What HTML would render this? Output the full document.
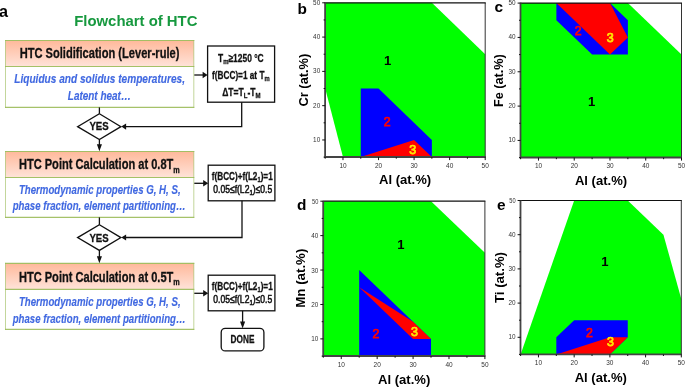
<!DOCTYPE html>
<html><head><meta charset="utf-8"><title>Flowchart of HTC</title>
<style>
html,body{margin:0;padding:0;background:#fff;}
body{width:685px;height:387px;overflow:hidden;}
svg{display:block;font-family:"Liberation Sans", sans-serif;will-change:transform;}
</style></head><body>
<svg width="685" height="387" viewBox="0 0 685 387">
<g id="flow">
<defs><linearGradient id="hg" x1="0" y1="0" x2="0" y2="1"><stop offset="0" stop-color="#ffb99b"/><stop offset="1" stop-color="#ffe3d9"/></linearGradient></defs>
<text x="-0.90" y="17.00" font-size="16.2" font-weight="bold" font-style="normal" fill="#000" stroke="#000" stroke-width="0" text-anchor="start">a</text>
<text x="74.20" y="26.00" font-size="14.6" font-weight="bold" font-style="normal" fill="#17993f" stroke="#17993f" stroke-width="0" text-anchor="start" textLength="123.30" lengthAdjust="spacingAndGlyphs">Flowchart of HTC</text>
<rect x="5.50" y="40.50" width="188.30" height="66.90" fill="#fff"/>
<rect x="5.50" y="40.50" width="188.30" height="26.00" fill="url(#hg)"/>
<path d="M5.50 40.00 V107.90 M193.80 40.00 V107.90" stroke="#9bbb59" stroke-width="1" stroke-opacity="0.6" fill="none"/>
<path d="M5.00 40.50 H194.30 M5.00 66.50 H194.30 M5.00 107.40 H194.30" stroke="#9bbb59" stroke-width="1.1" stroke-opacity="0.9" fill="none"/>
<text x="19.70" y="57.90" font-size="14.3" font-weight="bold" font-style="normal" fill="#111" stroke="#111" stroke-width="0.3" text-anchor="start" textLength="159.70" lengthAdjust="spacingAndGlyphs">HTC Solidification (Lever-rule)</text>
<text x="14.30" y="82.80" font-size="12.7" font-weight="bold" font-style="italic" fill="#4169e1" stroke="#4169e1" stroke-width="0.15" text-anchor="start" textLength="170.70" lengthAdjust="spacingAndGlyphs">Liquidus and solidus temperatures,</text>
<text x="67.80" y="99.80" font-size="12.7" font-weight="bold" font-style="italic" fill="#4169e1" stroke="#4169e1" stroke-width="0.15" text-anchor="start" textLength="63.10" lengthAdjust="spacingAndGlyphs">Latent heat…</text>
<rect x="5.50" y="151.50" width="188.30" height="65.90" fill="#fff"/>
<rect x="5.50" y="151.50" width="188.30" height="26.00" fill="url(#hg)"/>
<path d="M5.50 151.00 V217.90 M193.80 151.00 V217.90" stroke="#9bbb59" stroke-width="1" stroke-opacity="0.6" fill="none"/>
<path d="M5.00 151.50 H194.30 M5.00 177.50 H194.30 M5.00 217.40 H194.30" stroke="#9bbb59" stroke-width="1.1" stroke-opacity="0.9" fill="none"/>
<text x="18.90" y="169.40" font-size="14.3" font-weight="bold" font-style="normal" fill="#111" stroke="#111" stroke-width="0.3" text-anchor="start" textLength="160.90" lengthAdjust="spacingAndGlyphs">HTC Point Calculation at 0.8T<tspan font-size="9.4" dy="3.1">m</tspan></text>
<text x="18.90" y="194.20" font-size="12.7" font-weight="bold" font-style="italic" fill="#4169e1" stroke="#4169e1" stroke-width="0.15" text-anchor="start" textLength="161.70" lengthAdjust="spacingAndGlyphs">Thermodynamic properties G, H, S,</text>
<text x="12.70" y="210.00" font-size="12.7" font-weight="bold" font-style="italic" fill="#4169e1" stroke="#4169e1" stroke-width="0.15" text-anchor="start" textLength="172.90" lengthAdjust="spacingAndGlyphs">phase fraction, element partitioning…</text>
<rect x="5.50" y="263.40" width="188.30" height="66.00" fill="#fff"/>
<rect x="5.50" y="263.40" width="188.30" height="26.00" fill="url(#hg)"/>
<path d="M5.50 262.90 V329.90 M193.80 262.90 V329.90" stroke="#9bbb59" stroke-width="1" stroke-opacity="0.6" fill="none"/>
<path d="M5.00 263.40 H194.30 M5.00 289.40 H194.30 M5.00 329.40 H194.30" stroke="#9bbb59" stroke-width="1.1" stroke-opacity="0.9" fill="none"/>
<text x="18.90" y="282.00" font-size="14.3" font-weight="bold" font-style="normal" fill="#111" stroke="#111" stroke-width="0.3" text-anchor="start" textLength="160.90" lengthAdjust="spacingAndGlyphs">HTC Point Calculation at 0.5T<tspan font-size="9.4" dy="3.1">m</tspan></text>
<text x="18.90" y="306.30" font-size="12.7" font-weight="bold" font-style="italic" fill="#4169e1" stroke="#4169e1" stroke-width="0.15" text-anchor="start" textLength="161.70" lengthAdjust="spacingAndGlyphs">Thermodynamic properties G, H, S,</text>
<text x="12.70" y="322.50" font-size="12.7" font-weight="bold" font-style="italic" fill="#4169e1" stroke="#4169e1" stroke-width="0.15" text-anchor="start" textLength="172.90" lengthAdjust="spacingAndGlyphs">phase fraction, element partitioning…</text>
<rect x="207.60" y="46.00" width="67.00" height="56.20" fill="#fff" stroke="#111" stroke-width="1.3"/>
<text x="218.00" y="61.80" font-size="11.3" font-weight="bold" font-style="normal" fill="#111" stroke="#111" stroke-width="0.3" text-anchor="start" textLength="45.70" lengthAdjust="spacingAndGlyphs">T<tspan font-size="8" dy="2.2">m</tspan><tspan dy="-2.2">≥1250 °C</tspan></text>
<text x="212.10" y="78.50" font-size="11.3" font-weight="bold" font-style="normal" fill="#111" stroke="#111" stroke-width="0.3" text-anchor="start" textLength="57.50" lengthAdjust="spacingAndGlyphs">f(BCC)=1 at T<tspan font-size="8" dy="2.2">m</tspan></text>
<text x="222.20" y="95.60" font-size="11.3" font-weight="bold" font-style="normal" fill="#111" stroke="#111" stroke-width="0.3" text-anchor="start" textLength="38.40" lengthAdjust="spacingAndGlyphs">ΔT=T<tspan font-size="8" dy="2.2">L</tspan><tspan dy="-2.2">-T</tspan><tspan font-size="8" dy="2.2">M</tspan></text>
<path d="M194.30 75.00 H204.60" stroke="#111" stroke-width="1.3"/>
<path d="M207.60 75.00 l-5 -3.3 v6.6 z" fill="#111"/>
<path d="M241.7 102.2 V126.6 H125" fill="none" stroke="#111" stroke-width="1.3"/>
<path d="M121.3 126.6 l4.8 -3.1 v6.2 z" fill="#111"/>
<path d="M99.4 107.4 V113.7" stroke="#111" stroke-width="1.3"/>
<polygon points="99.40,113.70 120.90,126.65 99.40,139.60 77.60,126.65" fill="#fff" stroke="#111" stroke-width="1.3"/>
<text x="99.10" y="130.00" font-size="11.8" font-weight="bold" font-style="normal" fill="#111" stroke="#111" stroke-width="0.3" text-anchor="middle" textLength="19.30" lengthAdjust="spacingAndGlyphs">YES</text>
<path d="M99.40 139.60 V148.20" stroke="#111" stroke-width="1.3"/>
<path d="M99.40 151.20 l-2.55 -7 h5.1 z" fill="#111"/>
<rect x="208.20" y="165.20" width="66.70" height="35.60" fill="#fff" stroke="#111" stroke-width="1.3"/>
<text x="211.80" y="179.80" font-size="11.3" font-weight="bold" font-style="normal" fill="#111" stroke="#111" stroke-width="0.3" text-anchor="start" textLength="60.90" lengthAdjust="spacingAndGlyphs">f(BCC)+f(L2<tspan font-size="8" dy="2.2">1</tspan><tspan dy="-2.2">)=1</tspan></text>
<text x="213.30" y="193.10" font-size="11.3" font-weight="normal" font-style="normal" fill="#111" stroke="#111" stroke-width="0.55" text-anchor="start" textLength="58.90" lengthAdjust="spacingAndGlyphs">0.05≤f(L2<tspan font-size="8" dy="2.2">1</tspan><tspan dy="-2.2">)≤0.5</tspan></text>
<path d="M194.30 183.30 H205.20" stroke="#111" stroke-width="1.3"/>
<path d="M208.20 183.30 l-5 -3.3 v6.6 z" fill="#111"/>
<rect x="208.20" y="275.20" width="66.70" height="35.60" fill="#fff" stroke="#111" stroke-width="1.3"/>
<text x="211.80" y="289.80" font-size="11.3" font-weight="bold" font-style="normal" fill="#111" stroke="#111" stroke-width="0.3" text-anchor="start" textLength="60.90" lengthAdjust="spacingAndGlyphs">f(BCC)+f(L2<tspan font-size="8" dy="2.2">1</tspan><tspan dy="-2.2">)=1</tspan></text>
<text x="213.30" y="303.10" font-size="11.3" font-weight="normal" font-style="normal" fill="#111" stroke="#111" stroke-width="0.55" text-anchor="start" textLength="58.90" lengthAdjust="spacingAndGlyphs">0.05≤f(L2<tspan font-size="8" dy="2.2">1</tspan><tspan dy="-2.2">)≤0.5</tspan></text>
<path d="M194.30 293.30 H205.20" stroke="#111" stroke-width="1.3"/>
<path d="M208.20 293.30 l-5 -3.3 v6.6 z" fill="#111"/>
<path d="M242 200.8 V237.5 H125" fill="none" stroke="#111" stroke-width="1.3"/>
<path d="M121.3 237.5 l4.8 -3.1 v6.2 z" fill="#111"/>
<path d="M99.4 217.4 V224.8" stroke="#111" stroke-width="1.3"/>
<polygon points="99.40,224.80 120.90,237.60 99.40,250.40 77.60,237.60" fill="#fff" stroke="#111" stroke-width="1.3"/>
<text x="99.10" y="241.60" font-size="11.8" font-weight="bold" font-style="normal" fill="#111" stroke="#111" stroke-width="0.3" text-anchor="middle" textLength="19.30" lengthAdjust="spacingAndGlyphs">YES</text>
<path d="M99.40 250.40 V260.20" stroke="#111" stroke-width="1.3"/>
<path d="M99.40 263.20 l-2.55 -7 h5.1 z" fill="#111"/>
<path d="M242.60 310.80 V325.40" stroke="#111" stroke-width="1.3"/>
<path d="M242.60 328.40 l-2.55 -7 h5.1 z" fill="#111"/>
<rect x="221.2" y="328.4" width="42.7" height="22.5" rx="4" ry="4" fill="#fff" stroke="#111" stroke-width="1.3"/>
<text x="242.50" y="343.10" font-size="10.9" font-weight="bold" font-style="normal" fill="#111" stroke="#111" stroke-width="0.3" text-anchor="middle" textLength="23.80" lengthAdjust="spacingAndGlyphs">DONE</text>
</g>
<g id="charts">
<polygon points="325.20,2.80 431.87,2.80 485.20,54.23 485.20,157.10 342.98,157.10 325.20,88.52" fill="#00ff00"/>
<polygon points="360.76,88.52 378.53,88.52 431.87,139.96 431.87,157.10 360.76,157.10" fill="#0000ff"/>
<polygon points="360.76,157.10 414.09,139.96 431.87,157.10" fill="#ff0000"/>
<path d="M485.20 2.80 V157.10" fill="none" stroke="#333" stroke-width="1"/>
<path d="M325.20 2.80 H485.70" fill="none" stroke="#111" stroke-width="1.2"/>
<path d="M325.10 2.30 V157.00 H485.70" fill="none" stroke="#444" stroke-width="1.8"/>
<path d="M325.20 157.10 h-1.60" stroke="#111" stroke-width="1"/>
<path d="M325.20 157.10 v1.60" stroke="#111" stroke-width="1"/>
<path d="M325.20 139.96 h-3.00" stroke="#111" stroke-width="1"/>
<path d="M342.98 157.10 v3.00" stroke="#111" stroke-width="1"/>
<path d="M325.20 122.81 h-1.60" stroke="#111" stroke-width="1"/>
<path d="M360.76 157.10 v1.60" stroke="#111" stroke-width="1"/>
<path d="M325.20 105.67 h-3.00" stroke="#111" stroke-width="1"/>
<path d="M378.53 157.10 v3.00" stroke="#111" stroke-width="1"/>
<path d="M325.20 88.52 h-1.60" stroke="#111" stroke-width="1"/>
<path d="M396.31 157.10 v1.60" stroke="#111" stroke-width="1"/>
<path d="M325.20 71.38 h-3.00" stroke="#111" stroke-width="1"/>
<path d="M414.09 157.10 v3.00" stroke="#111" stroke-width="1"/>
<path d="M325.20 54.23 h-1.60" stroke="#111" stroke-width="1"/>
<path d="M431.87 157.10 v1.60" stroke="#111" stroke-width="1"/>
<path d="M325.20 37.09 h-3.00" stroke="#111" stroke-width="1"/>
<path d="M449.64 157.10 v3.00" stroke="#111" stroke-width="1"/>
<path d="M325.20 19.94 h-1.60" stroke="#111" stroke-width="1"/>
<path d="M467.42 157.10 v1.60" stroke="#111" stroke-width="1"/>
<path d="M325.20 2.80 h-3.00" stroke="#111" stroke-width="1"/>
<path d="M485.20 157.10 v3.00" stroke="#111" stroke-width="1"/>
<text x="320.20" y="141.91" font-size="7" text-anchor="end" fill="#333" textLength="7.1" lengthAdjust="spacingAndGlyphs">10</text>
<text x="342.98" y="167.50" font-size="7" text-anchor="middle" fill="#333" textLength="7.2" lengthAdjust="spacingAndGlyphs">10</text>
<text x="320.20" y="107.62" font-size="7" text-anchor="end" fill="#333" textLength="7.1" lengthAdjust="spacingAndGlyphs">20</text>
<text x="378.53" y="167.50" font-size="7" text-anchor="middle" fill="#333" textLength="7.2" lengthAdjust="spacingAndGlyphs">20</text>
<text x="320.20" y="73.33" font-size="7" text-anchor="end" fill="#333" textLength="7.1" lengthAdjust="spacingAndGlyphs">30</text>
<text x="414.09" y="167.50" font-size="7" text-anchor="middle" fill="#333" textLength="7.2" lengthAdjust="spacingAndGlyphs">30</text>
<text x="320.20" y="39.04" font-size="7" text-anchor="end" fill="#333" textLength="7.1" lengthAdjust="spacingAndGlyphs">40</text>
<text x="449.64" y="167.50" font-size="7" text-anchor="middle" fill="#333" textLength="7.2" lengthAdjust="spacingAndGlyphs">40</text>
<text x="320.20" y="4.75" font-size="7" text-anchor="end" fill="#333" textLength="7.1" lengthAdjust="spacingAndGlyphs">50</text>
<text x="485.20" y="167.50" font-size="7" text-anchor="middle" fill="#333" textLength="7.2" lengthAdjust="spacingAndGlyphs">50</text>
<text x="387.53" y="65.16" font-size="13.1" font-weight="bold" text-anchor="middle" fill="#000" stroke="#000" stroke-width="0">1</text>
<text x="387.28" y="125.53" font-size="12.3" font-weight="normal" text-anchor="middle" fill="#ff0000" stroke="#ff0000" stroke-width="0.75">2</text>
<text x="412.72" y="154.36" font-size="12.5" font-weight="normal" text-anchor="middle" fill="#ffe600" stroke="#ffe600" stroke-width="0.75">3</text>
<text x="405.10" y="184.30" font-size="13.05" font-weight="bold" text-anchor="middle" fill="#000">Al (at.%)</text>
<text transform="translate(307.70 80.10) rotate(-90)" font-size="13.7" font-weight="bold" text-anchor="middle" fill="#000" textLength="52.7" lengthAdjust="spacingAndGlyphs">Cr (at.%)</text>
<text x="297.40" y="14.00" font-size="15.4" font-weight="bold" fill="#000">b</text>
<polygon points="520.60,3.10 627.87,3.10 681.50,54.60 681.50,157.60 520.60,157.60" fill="#00ff00"/>
<polygon points="556.36,3.10 609.99,3.10 627.87,20.27 627.87,54.60 592.11,54.60 556.36,20.27" fill="#0000ff"/>
<polygon points="556.36,3.10 609.99,3.10 627.87,37.43 609.99,54.60" fill="#ff0000"/>
<path d="M681.50 3.10 V157.60" fill="none" stroke="#333" stroke-width="1"/>
<path d="M520.60 3.10 H682.00" fill="none" stroke="#111" stroke-width="1.2"/>
<path d="M520.50 2.60 V157.50 H682.00" fill="none" stroke="#444" stroke-width="1.8"/>
<path d="M520.60 157.60 h-1.60" stroke="#111" stroke-width="1"/>
<path d="M520.60 157.60 v1.60" stroke="#111" stroke-width="1"/>
<path d="M520.60 140.43 h-3.00" stroke="#111" stroke-width="1"/>
<path d="M538.48 157.60 v3.00" stroke="#111" stroke-width="1"/>
<path d="M520.60 123.27 h-1.60" stroke="#111" stroke-width="1"/>
<path d="M556.36 157.60 v1.60" stroke="#111" stroke-width="1"/>
<path d="M520.60 106.10 h-3.00" stroke="#111" stroke-width="1"/>
<path d="M574.23 157.60 v3.00" stroke="#111" stroke-width="1"/>
<path d="M520.60 88.93 h-1.60" stroke="#111" stroke-width="1"/>
<path d="M592.11 157.60 v1.60" stroke="#111" stroke-width="1"/>
<path d="M520.60 71.77 h-3.00" stroke="#111" stroke-width="1"/>
<path d="M609.99 157.60 v3.00" stroke="#111" stroke-width="1"/>
<path d="M520.60 54.60 h-1.60" stroke="#111" stroke-width="1"/>
<path d="M627.87 157.60 v1.60" stroke="#111" stroke-width="1"/>
<path d="M520.60 37.43 h-3.00" stroke="#111" stroke-width="1"/>
<path d="M645.74 157.60 v3.00" stroke="#111" stroke-width="1"/>
<path d="M520.60 20.27 h-1.60" stroke="#111" stroke-width="1"/>
<path d="M663.62 157.60 v1.60" stroke="#111" stroke-width="1"/>
<path d="M520.60 3.10 h-3.00" stroke="#111" stroke-width="1"/>
<path d="M681.50 157.60 v3.00" stroke="#111" stroke-width="1"/>
<text x="515.60" y="142.18" font-size="7" text-anchor="end" fill="#333" textLength="7.1" lengthAdjust="spacingAndGlyphs">10</text>
<text x="538.48" y="167.70" font-size="7" text-anchor="middle" fill="#333" textLength="7.2" lengthAdjust="spacingAndGlyphs">10</text>
<text x="515.60" y="107.85" font-size="7" text-anchor="end" fill="#333" textLength="7.1" lengthAdjust="spacingAndGlyphs">20</text>
<text x="574.23" y="167.70" font-size="7" text-anchor="middle" fill="#333" textLength="7.2" lengthAdjust="spacingAndGlyphs">20</text>
<text x="515.60" y="73.52" font-size="7" text-anchor="end" fill="#333" textLength="7.1" lengthAdjust="spacingAndGlyphs">30</text>
<text x="609.99" y="167.70" font-size="7" text-anchor="middle" fill="#333" textLength="7.2" lengthAdjust="spacingAndGlyphs">30</text>
<text x="515.60" y="39.18" font-size="7" text-anchor="end" fill="#333" textLength="7.1" lengthAdjust="spacingAndGlyphs">40</text>
<text x="645.74" y="167.70" font-size="7" text-anchor="middle" fill="#333" textLength="7.2" lengthAdjust="spacingAndGlyphs">40</text>
<text x="515.60" y="4.85" font-size="7" text-anchor="end" fill="#333" textLength="7.1" lengthAdjust="spacingAndGlyphs">50</text>
<text x="681.50" y="167.70" font-size="7" text-anchor="middle" fill="#333" textLength="7.2" lengthAdjust="spacingAndGlyphs">50</text>
<text x="591.61" y="105.99" font-size="13.1" font-weight="bold" text-anchor="middle" fill="#000" stroke="#000" stroke-width="0">1</text>
<text x="578.11" y="35.22" font-size="12.3" font-weight="normal" text-anchor="middle" fill="#ff0000" stroke="#ff0000" stroke-width="0.75">2</text>
<text x="610.19" y="42.04" font-size="12.5" font-weight="normal" text-anchor="middle" fill="#ffe600" stroke="#ffe600" stroke-width="0.75">3</text>
<text x="601.00" y="184.60" font-size="13.05" font-weight="bold" text-anchor="middle" fill="#000">Al (at.%)</text>
<text transform="translate(502.80 80.60) rotate(-90)" font-size="13.7" font-weight="bold" text-anchor="middle" fill="#000" textLength="52.7" lengthAdjust="spacingAndGlyphs">Fe (at.%)</text>
<text x="494.60" y="11.70" font-size="15.4" font-weight="bold" fill="#000">c</text>
<polygon points="323.30,201.20 431.03,201.20 484.90,252.83 484.90,356.10 323.30,356.10" fill="#00ff00"/>
<polygon points="359.21,270.04 431.03,338.89 431.03,356.10 359.21,356.10" fill="#0000ff"/>
<polygon points="359.21,287.26 413.08,321.68 431.03,338.89 413.08,338.89" fill="#ff0000"/>
<path d="M484.90 201.20 V356.10" fill="none" stroke="#333" stroke-width="1"/>
<path d="M323.30 201.20 H485.40" fill="none" stroke="#111" stroke-width="1.2"/>
<path d="M323.20 200.70 V356.00 H485.40" fill="none" stroke="#444" stroke-width="1.8"/>
<path d="M323.30 356.10 h-1.60" stroke="#111" stroke-width="1"/>
<path d="M323.30 356.10 v1.60" stroke="#111" stroke-width="1"/>
<path d="M323.30 338.89 h-3.00" stroke="#111" stroke-width="1"/>
<path d="M341.26 356.10 v3.00" stroke="#111" stroke-width="1"/>
<path d="M323.30 321.68 h-1.60" stroke="#111" stroke-width="1"/>
<path d="M359.21 356.10 v1.60" stroke="#111" stroke-width="1"/>
<path d="M323.30 304.47 h-3.00" stroke="#111" stroke-width="1"/>
<path d="M377.17 356.10 v3.00" stroke="#111" stroke-width="1"/>
<path d="M323.30 287.26 h-1.60" stroke="#111" stroke-width="1"/>
<path d="M395.12 356.10 v1.60" stroke="#111" stroke-width="1"/>
<path d="M323.30 270.04 h-3.00" stroke="#111" stroke-width="1"/>
<path d="M413.08 356.10 v3.00" stroke="#111" stroke-width="1"/>
<path d="M323.30 252.83 h-1.60" stroke="#111" stroke-width="1"/>
<path d="M431.03 356.10 v1.60" stroke="#111" stroke-width="1"/>
<path d="M323.30 235.62 h-3.00" stroke="#111" stroke-width="1"/>
<path d="M448.99 356.10 v3.00" stroke="#111" stroke-width="1"/>
<path d="M323.30 218.41 h-1.60" stroke="#111" stroke-width="1"/>
<path d="M466.94 356.10 v1.60" stroke="#111" stroke-width="1"/>
<path d="M323.30 201.20 h-3.00" stroke="#111" stroke-width="1"/>
<path d="M484.90 356.10 v3.00" stroke="#111" stroke-width="1"/>
<text x="318.30" y="341.44" font-size="7" text-anchor="end" fill="#333" textLength="7.1" lengthAdjust="spacingAndGlyphs">10</text>
<text x="341.26" y="366.90" font-size="7" text-anchor="middle" fill="#333" textLength="7.2" lengthAdjust="spacingAndGlyphs">10</text>
<text x="318.30" y="307.02" font-size="7" text-anchor="end" fill="#333" textLength="7.1" lengthAdjust="spacingAndGlyphs">20</text>
<text x="377.17" y="366.90" font-size="7" text-anchor="middle" fill="#333" textLength="7.2" lengthAdjust="spacingAndGlyphs">20</text>
<text x="318.30" y="272.59" font-size="7" text-anchor="end" fill="#333" textLength="7.1" lengthAdjust="spacingAndGlyphs">30</text>
<text x="413.08" y="366.90" font-size="7" text-anchor="middle" fill="#333" textLength="7.2" lengthAdjust="spacingAndGlyphs">30</text>
<text x="318.30" y="238.17" font-size="7" text-anchor="end" fill="#333" textLength="7.1" lengthAdjust="spacingAndGlyphs">40</text>
<text x="448.99" y="366.90" font-size="7" text-anchor="middle" fill="#333" textLength="7.2" lengthAdjust="spacingAndGlyphs">40</text>
<text x="318.30" y="203.75" font-size="7" text-anchor="end" fill="#333" textLength="6.3" lengthAdjust="spacingAndGlyphs">50</text>
<text x="484.90" y="366.90" font-size="7" text-anchor="middle" fill="#333" textLength="7.2" lengthAdjust="spacingAndGlyphs">50</text>
<text x="401.00" y="248.89" font-size="13.1" font-weight="bold" text-anchor="middle" fill="#000" stroke="#000" stroke-width="0">1</text>
<text x="375.85" y="338.00" font-size="12.3" font-weight="normal" text-anchor="middle" fill="#ff0000" stroke="#ff0000" stroke-width="0.75">2</text>
<text x="414.56" y="335.82" font-size="12.5" font-weight="normal" text-anchor="middle" fill="#ffe600" stroke="#ffe600" stroke-width="0.75">3</text>
<text x="404.15" y="383.70" font-size="13.05" font-weight="bold" text-anchor="middle" fill="#000">Al (at.%)</text>
<text transform="translate(304.50 278.20) rotate(-90)" font-size="13.7" font-weight="bold" text-anchor="middle" fill="#000" textLength="59.0" lengthAdjust="spacingAndGlyphs">Mn (at.%)</text>
<text x="297.00" y="210.20" font-size="15.4" font-weight="bold" fill="#000">d</text>
<polygon points="520.60,354.40 574.17,200.50 627.73,200.50 663.44,234.70 681.30,299.00 681.30,354.40" fill="#00ff00"/>
<polygon points="556.31,337.30 574.17,320.20 627.73,320.20 627.73,337.30 609.88,354.40 556.31,354.40" fill="#0000ff"/>
<polygon points="556.31,354.40 609.88,337.30 627.73,337.30 609.88,354.40" fill="#ff0000"/>
<path d="M681.30 200.50 V354.40" fill="none" stroke="#333" stroke-width="1"/>
<path d="M520.60 200.50 H681.80" fill="none" stroke="#111" stroke-width="1.2"/>
<path d="M520.50 200.00 V354.30 H681.80" fill="none" stroke="#444" stroke-width="1.8"/>
<path d="M520.60 354.40 h-1.60" stroke="#111" stroke-width="1"/>
<path d="M520.60 354.40 v1.60" stroke="#111" stroke-width="1"/>
<path d="M520.60 337.30 h-3.00" stroke="#111" stroke-width="1"/>
<path d="M538.46 354.40 v3.00" stroke="#111" stroke-width="1"/>
<path d="M520.60 320.20 h-1.60" stroke="#111" stroke-width="1"/>
<path d="M556.31 354.40 v1.60" stroke="#111" stroke-width="1"/>
<path d="M520.60 303.10 h-3.00" stroke="#111" stroke-width="1"/>
<path d="M574.17 354.40 v3.00" stroke="#111" stroke-width="1"/>
<path d="M520.60 286.00 h-1.60" stroke="#111" stroke-width="1"/>
<path d="M592.02 354.40 v1.60" stroke="#111" stroke-width="1"/>
<path d="M520.60 268.90 h-3.00" stroke="#111" stroke-width="1"/>
<path d="M609.88 354.40 v3.00" stroke="#111" stroke-width="1"/>
<path d="M520.60 251.80 h-1.60" stroke="#111" stroke-width="1"/>
<path d="M627.73 354.40 v1.60" stroke="#111" stroke-width="1"/>
<path d="M520.60 234.70 h-3.00" stroke="#111" stroke-width="1"/>
<path d="M645.59 354.40 v3.00" stroke="#111" stroke-width="1"/>
<path d="M520.60 217.60 h-1.60" stroke="#111" stroke-width="1"/>
<path d="M663.44 354.40 v1.60" stroke="#111" stroke-width="1"/>
<path d="M520.60 200.50 h-3.00" stroke="#111" stroke-width="1"/>
<path d="M681.30 354.40 v3.00" stroke="#111" stroke-width="1"/>
<text x="515.60" y="339.35" font-size="7" text-anchor="end" fill="#333" textLength="7.1" lengthAdjust="spacingAndGlyphs">10</text>
<text x="538.46" y="365.20" font-size="7" text-anchor="middle" fill="#333" textLength="7.2" lengthAdjust="spacingAndGlyphs">10</text>
<text x="515.60" y="305.15" font-size="7" text-anchor="end" fill="#333" textLength="7.1" lengthAdjust="spacingAndGlyphs">20</text>
<text x="574.17" y="365.20" font-size="7" text-anchor="middle" fill="#333" textLength="7.2" lengthAdjust="spacingAndGlyphs">20</text>
<text x="515.60" y="270.95" font-size="7" text-anchor="end" fill="#333" textLength="7.1" lengthAdjust="spacingAndGlyphs">30</text>
<text x="609.88" y="365.20" font-size="7" text-anchor="middle" fill="#333" textLength="7.2" lengthAdjust="spacingAndGlyphs">30</text>
<text x="515.60" y="236.75" font-size="7" text-anchor="end" fill="#333" textLength="7.1" lengthAdjust="spacingAndGlyphs">40</text>
<text x="645.59" y="365.20" font-size="7" text-anchor="middle" fill="#333" textLength="7.2" lengthAdjust="spacingAndGlyphs">40</text>
<text x="515.60" y="202.55" font-size="7" text-anchor="end" fill="#333" textLength="6.3" lengthAdjust="spacingAndGlyphs">50</text>
<text x="681.30" y="365.20" font-size="7" text-anchor="middle" fill="#333" textLength="7.2" lengthAdjust="spacingAndGlyphs">50</text>
<text x="604.91" y="266.47" font-size="13.1" font-weight="bold" text-anchor="middle" fill="#000" stroke="#000" stroke-width="0">1</text>
<text x="589.54" y="337.10" font-size="12.3" font-weight="normal" text-anchor="middle" fill="#ff0000" stroke="#ff0000" stroke-width="0.75">2</text>
<text x="610.45" y="346.08" font-size="12.5" font-weight="normal" text-anchor="middle" fill="#ffe600" stroke="#ffe600" stroke-width="0.75">3</text>
<text x="600.75" y="381.70" font-size="13.05" font-weight="bold" text-anchor="middle" fill="#000">Al (at.%)</text>
<text transform="translate(503.60 277.50) rotate(-90)" font-size="13.7" font-weight="bold" text-anchor="middle" fill="#000" textLength="51.0" lengthAdjust="spacingAndGlyphs">Ti (at.%)</text>
<text x="497.00" y="210.30" font-size="15.4" font-weight="bold" fill="#000">e</text>
</g>
</svg>
</body></html>
